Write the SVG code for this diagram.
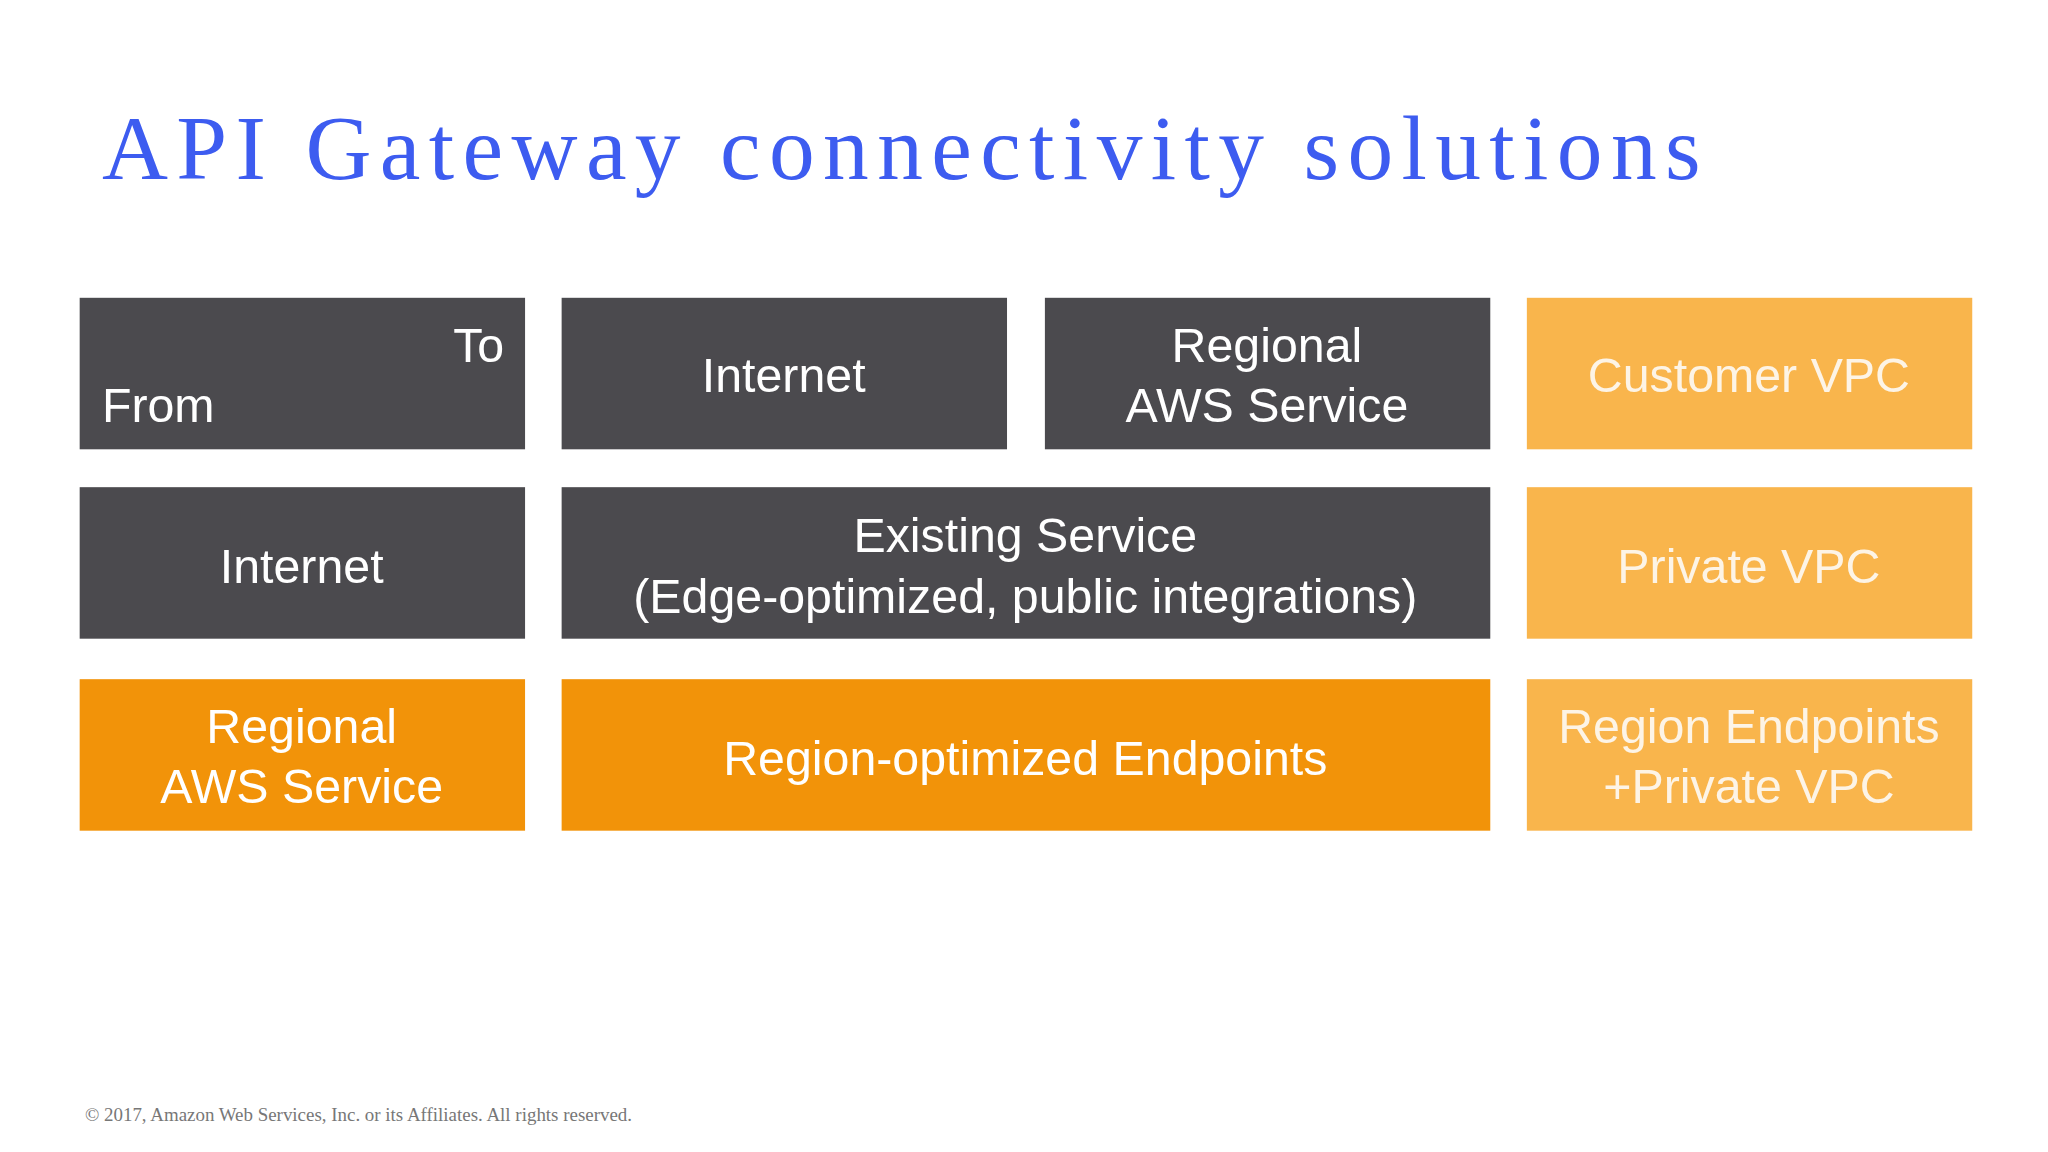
<svg xmlns="http://www.w3.org/2000/svg" width="2048" height="1152" viewBox="0 0 2048 1152">
<style>
.d{fill:#4b4a4e}.o{fill:#f29309}.l{fill:#f9b54c}
.t{font-family:"Liberation Sans",Arial,sans-serif;font-size:37px;fill:#fff;text-anchor:middle}
.lt{fill:#fdf4e6}
</style>
<rect width="2048" height="1152" fill="#fff"/>
<g transform="scale(1.30612)">
<text x="78" y="137" font-family="Liberation Serif,serif" font-size="70" fill="#3d5cf0" textLength="1224" lengthAdjust="spacing">API Gateway connectivity solutions</text>
<g id="h-fromto"><rect class="d" x="61" y="228" width="341" height="116"/><text class="t" x="386" y="277" text-anchor="end" style="text-anchor:end">To</text><text class="t" x="78" y="323" style="text-anchor:start">From</text></g>
<g id="h-internet"><rect class="d" x="430" y="228" width="341" height="116"/><text class="t" x="600" y="300">Internet</text></g>
<g id="h-regional"><rect class="d" x="800" y="228" width="341" height="116"/><text class="t" x="970" y="277">Regional</text><text class="t" x="970" y="323">AWS Service</text></g>
<g id="h-vpc"><rect class="l" x="1169" y="228" width="341" height="116"/><text class="t lt" x="1339" y="300">Customer VPC</text></g>
<g id="r-internet"><rect class="d" x="61" y="373" width="341" height="116"/><text class="t" x="231" y="446">Internet</text></g>
<g id="existing"><rect class="d" x="430" y="373" width="711" height="116"/><text class="t" x="785" y="423">Existing Service</text><text class="t" x="785" y="469">(Edge-optimized, public integrations)</text></g>
<g id="private"><rect class="l" x="1169" y="373" width="341" height="116"/><text class="t lt" x="1339" y="446">Private VPC</text></g>
<g id="r-regional"><rect class="o" x="61" y="520" width="341" height="116"/><text class="t" x="231" y="569">Regional</text><text class="t" x="231" y="615">AWS Service</text></g>
<g id="region-opt"><rect class="o" x="430" y="520" width="711" height="116"/><text class="t" x="785" y="593">Region-optimized Endpoints</text></g>
<g id="region-priv"><rect class="l" x="1169" y="520" width="341" height="116"/><text class="t lt" x="1339" y="569">Region Endpoints</text><text class="t lt" x="1339" y="615">+Private VPC</text></g>
<text x="65" y="858" font-family="Liberation Serif,serif" font-size="14.5" fill="#777">© 2017, Amazon Web Services, Inc. or its Affiliates. All rights reserved.</text>
<g id="connectors"/>
</g>
</svg>
